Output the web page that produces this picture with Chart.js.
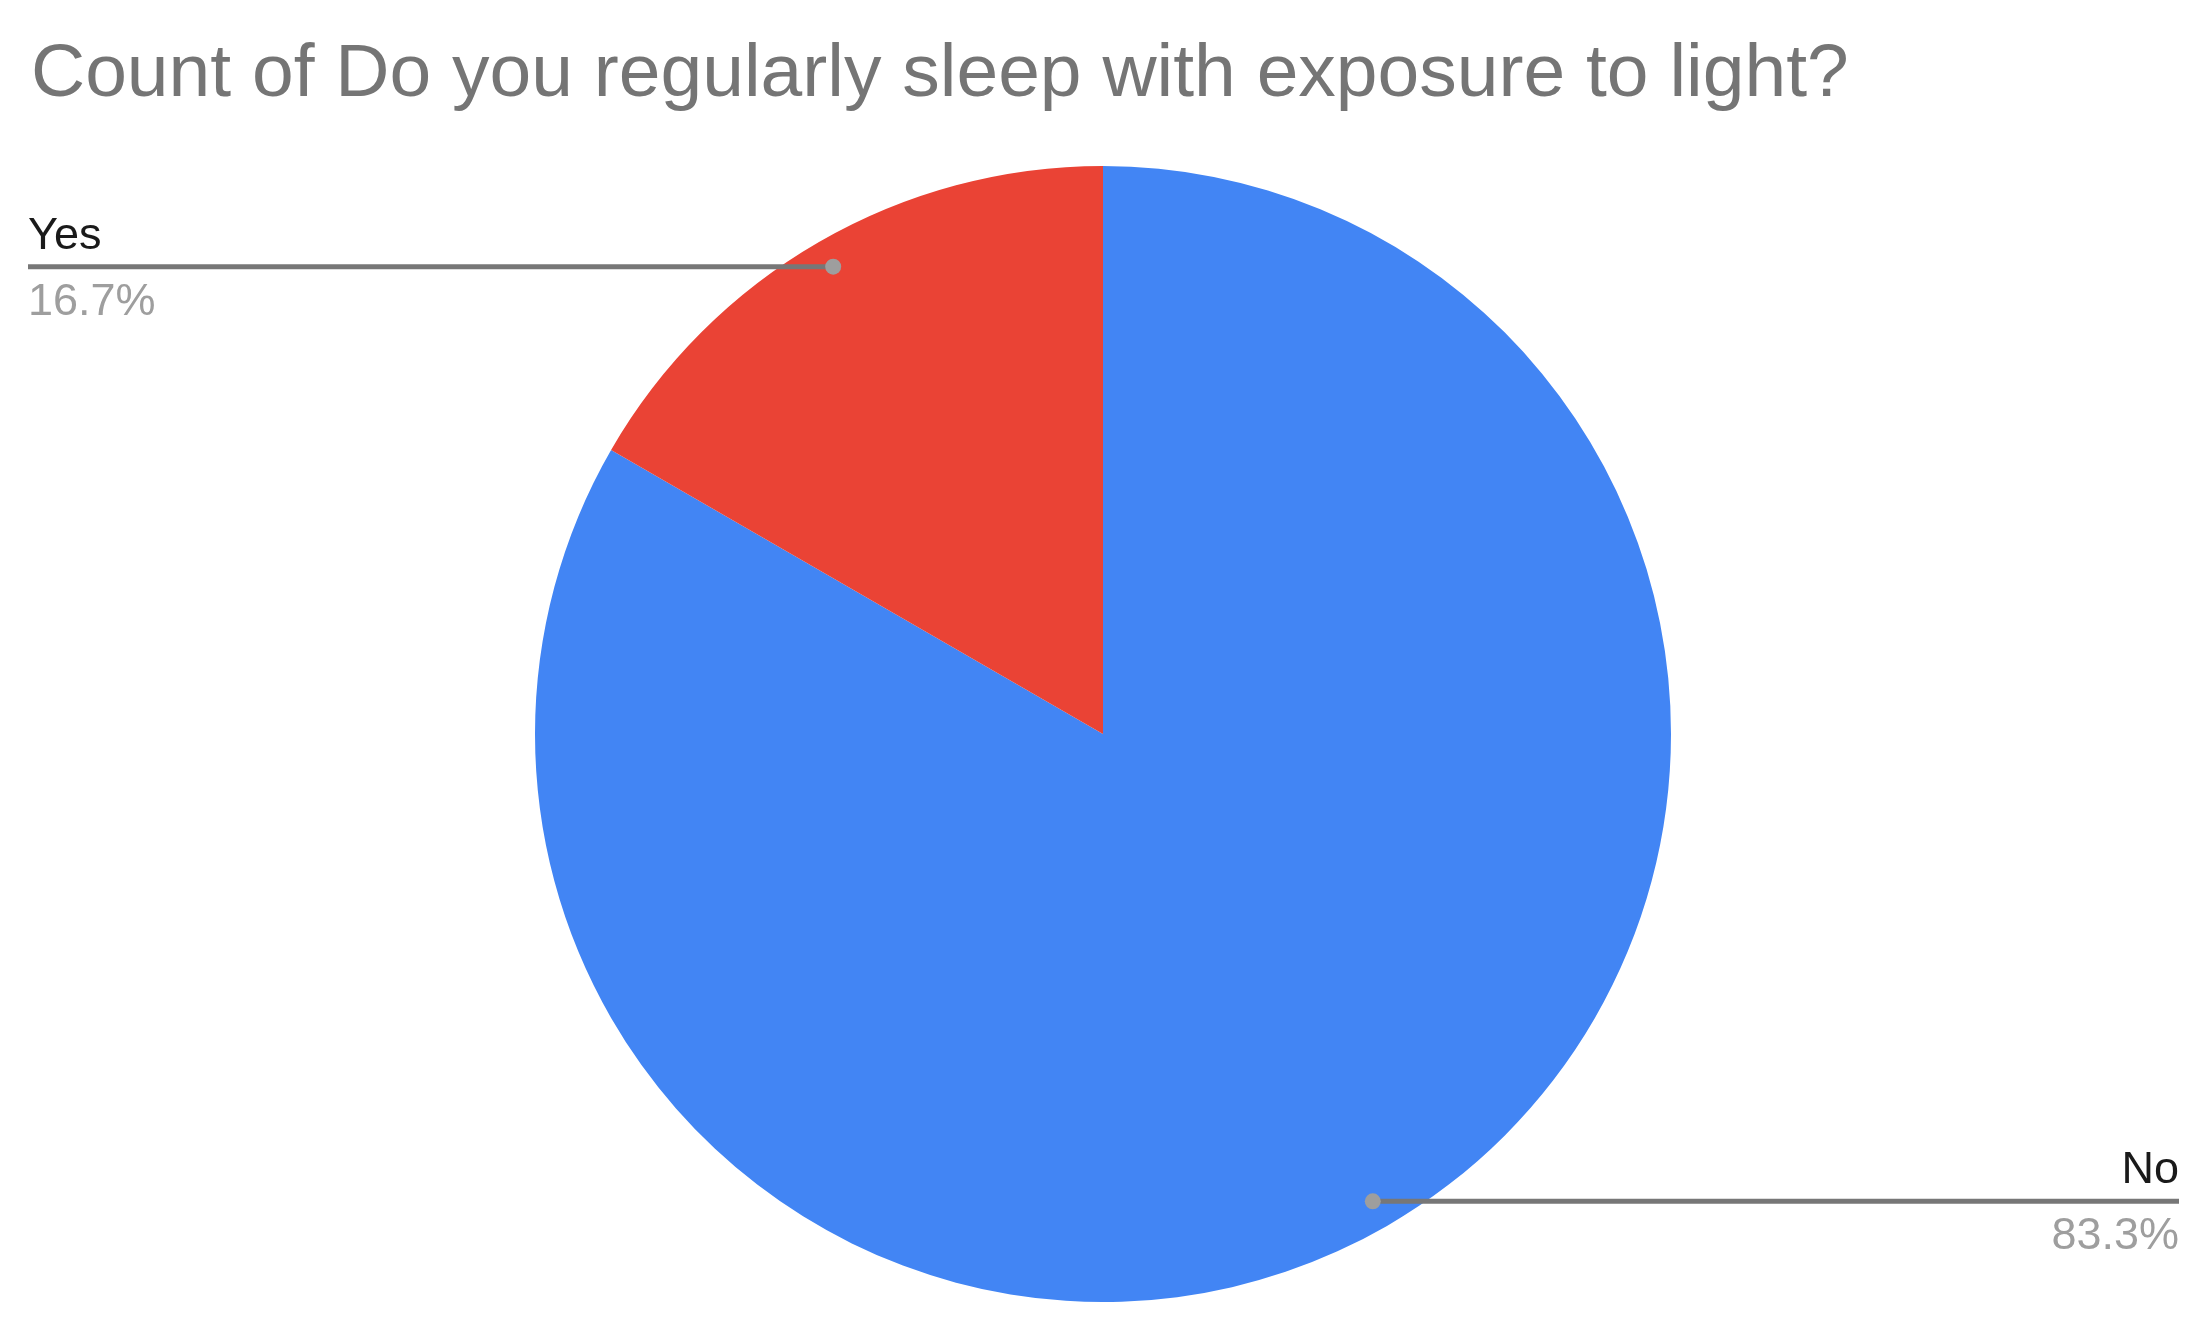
<!DOCTYPE html>
<html>
<head>
<meta charset="utf-8">
<script src="https://cdn.jsdelivr.net/npm/chart.js@4/dist/chart.umd.min.js"></script>
<style>
  html, body { margin: 0; padding: 0; background: #fff; }
  #wrap { width: 2197px; height: 1324px; }
</style>
</head>
<body>
<div id="wrap"><canvas id="pie"></canvas></div>
<script>
// data
var titleText = "Count of Do you regularly sleep with exposure to light?";
var labels = ["No", "Yes"];
var counts = [5, 1];
var colors = ["#4285F4", "#EA4335"];

var fontName = "'Liberation Sans', Arial, sans-serif";

// leader lines + labels, drawn like the google sheets pie
var leaderLabels = {
  id: "leaderLabels",
  afterDatasetsDraw: function (chart) {
    var ctx = chart.ctx;
    var meta = chart.getDatasetMeta(0);
    var total = counts.reduce(function (a, b) { return a + b; }, 0);
    var W = chart.width;
    meta.data.forEach(function (arc, i) {
      var mid = (arc.startAngle + arc.endAngle) / 2;
      var r = arc.outerRadius * 0.95;
      var px = arc.x + Math.cos(mid) * r;
      var py = arc.y + Math.sin(mid) * r;
      var left = px < arc.x;
      var endX = left ? 28 : W - 18;

      ctx.save();
      ctx.strokeStyle = "#777777";
      ctx.lineWidth = 5;
      ctx.beginPath();
      ctx.moveTo(px, py);
      ctx.lineTo(endX, py);
      ctx.stroke();

      ctx.fillStyle = "#9e9e9e";
      ctx.beginPath();
      ctx.arc(px, py, 8, 0, Math.PI * 2);
      ctx.fill();

      ctx.textAlign = left ? "left" : "right";
      ctx.textBaseline = "alphabetic";
      ctx.font = "45px " + fontName;
      ctx.fillStyle = "#1a1a1a";
      ctx.fillText(labels[i], endX, py - 18);
      ctx.fillStyle = "#9e9e9e";
      var pct = (counts[i] / total * 100).toFixed(1) + "%";
      ctx.fillText(pct, endX, py + 48);
      ctx.restore();
    });
  }
};

new Chart(document.getElementById("pie"), {
  type: "pie",
  data: {
    labels: labels,
    datasets: [{
      data: counts,
      backgroundColor: colors,
      borderWidth: 0
    }]
  },
  options: {
    responsive: true,
    maintainAspectRatio: false,
    animation: false,
    layout: { padding: { left: 31, right: 22, top: 0, bottom: 22 } },
    plugins: {
      legend: { display: false },
      tooltip: { enabled: false },
      title: {
        display: true,
        text: titleText,
        align: "start",
        color: "#757575",
        font: { family: fontName, size: 75, weight: "normal" },
        padding: { top: 30, bottom: 46 }
      }
    }
  },
  plugins: [leaderLabels]
});
</script>
</body>
</html>
